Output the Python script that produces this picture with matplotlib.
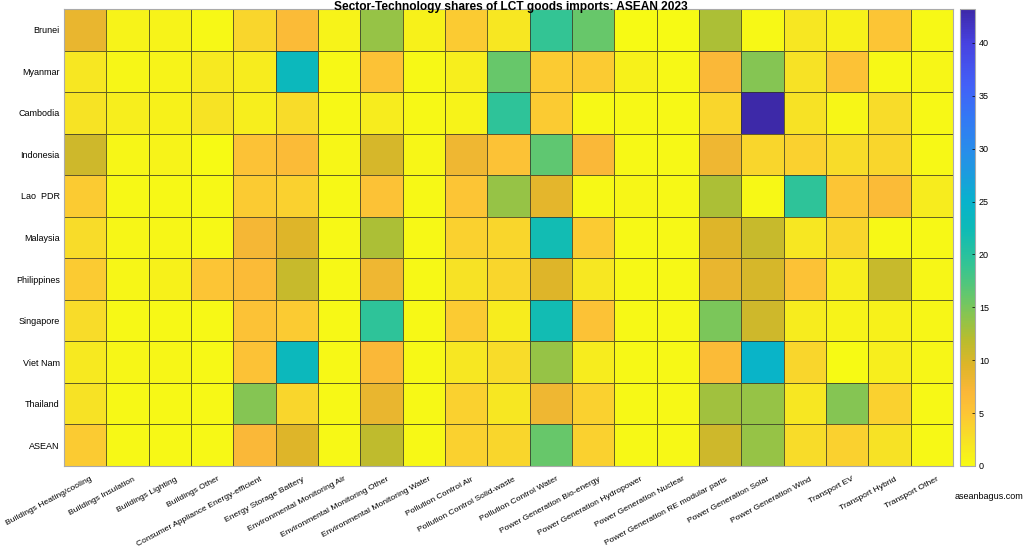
import numpy as np
import matplotlib
matplotlib.use("Agg")
import matplotlib.pyplot as plt
import matplotlib.transforms as mtransforms
from matplotlib.colors import LinearSegmentedColormap

plt.rcParams['font.family'] = ['Liberation Sans', 'DejaVu Sans']

countries = ["Brunei", "Myanmar", "Cambodia", "Indonesia", "Lao  PDR", "Malaysia",
             "Philippines", "Singapore", "Viet Nam", "Thailand", "ASEAN"]
sectors = ["Buildings Heating/cooling", "Buildings Insulation", "Buildings Lighting",
           "Buildings Other", "Consumer Appliance Energy-efficient", "Energy Storage Battery",
           "Environmental Monitoring Air", "Environmental Monitoring Other",
           "Environmental Monitoring Water", "Pollution Control Air",
           "Pollution Control Solid-waste", "Pollution Control Water",
           "Power Generation Bio-energy", "Power Generation Hydropower",
           "Power Generation Nuclear", "Power Generation RE modular parts",
           "Power Generation Solar", "Power Generation Wind", "Transport EV",
           "Transport Hybrid", "Transport Other"]

brunei      = [8.5, 0.7, 0.7, 0.3, 3.5, 6.5, 0.7, 13.5, 1.0, 4.5, 2.0, 19.0, 16.0, 0.0, 0.0, 12.5, 0.2, 2.0, 1.0, 5.0, 0.3]
myanmar     = [2.0, 0.5, 0.8, 1.8, 1.5, 23.0, 0.2, 5.5, 0.3, 1.2, 16.0, 4.5, 4.5, 1.0, 0.2, 7.0, 14.5, 2.5, 5.5, 0.3, 0.5]
cambodia    = [2.2, 1.3, 1.0, 2.3, 1.3, 3.0, 0.2, 1.5, 0.2, 0.8, 19.5, 4.5, 0.3, 0.2, 0.2, 3.5, 43.2, 2.5, 0.4, 3.0, 0.3]
indonesia   = [10.5, 0.5, 0.8, 0.1, 5.5, 6.5, 0.4, 10.0, 0.4, 8.0, 5.5, 16.5, 7.0, 0.3, 0.2, 8.0, 3.5, 4.0, 3.0, 3.5, 0.3]
lao_pdr     = [4.5, 0.3, 0.3, 0.3, 4.5, 4.0, 0.3, 5.5, 0.3, 5.0, 13.5, 9.0, 0.2, 0.5, 0.2, 12.5, 0.3, 19.5, 5.0, 6.5, 1.5]
malaysia    = [3.0, 0.4, 0.4, 0.2, 7.5, 9.5, 0.3, 12.5, 0.3, 4.0, 3.5, 22.0, 4.5, 0.3, 0.2, 9.5, 11.0, 2.0, 3.5, 0.3, 0.3]
philippines = [4.5, 0.4, 1.0, 5.0, 6.5, 11.0, 0.3, 8.0, 0.3, 2.5, 3.5, 9.5, 2.0, 0.2, 0.2, 8.5, 10.0, 5.5, 1.2, 11.0, 0.5]
singapore   = [3.0, 0.3, 0.3, 0.2, 5.5, 4.5, 0.3, 19.5, 0.3, 4.5, 1.5, 22.0, 5.5, 0.2, 0.2, 15.0, 10.5, 1.5, 0.8, 1.0, 0.5]
viet_nam    = [1.8, 0.4, 0.4, 0.2, 5.5, 23.0, 0.3, 7.0, 0.3, 2.0, 3.0, 13.5, 1.5, 0.2, 0.2, 6.5, 24.5, 3.5, 0.1, 1.2, 0.5]
thailand    = [2.5, 0.3, 0.3, 0.2, 14.5, 3.5, 0.3, 8.5, 0.3, 4.0, 2.0, 8.0, 4.0, 0.2, 0.2, 13.0, 13.5, 2.0, 14.5, 4.0, 0.3]
asean       = [4.5, 0.3, 0.3, 0.3, 7.0, 9.5, 0.3, 11.5, 0.3, 4.0, 3.5, 16.0, 4.0, 0.2, 0.2, 10.5, 13.5, 3.0, 4.0, 2.5, 0.3]

data = np.array([brunei, myanmar, cambodia, indonesia, lao_pdr, malaysia,
                 philippines, singapore, viet_nam, thailand, asean])

vmax = data.max()

# colour anchors (value, rgb) (reversed parula)
cbar_vals = [0.0, 2.5, 5.0, 7.0, 9.5, 12.0, 14.0, 16.0, 19.0, 22.5, 25.0, 28.0, 30.0, 33.0, 36.0, 40.0, 43.2]
cbar_cols = [(0.97, 0.98, 0.08), (0.97, 0.88, 0.15), (0.99, 0.77, 0.21), (0.98, 0.72, 0.22),
             (0.87, 0.71, 0.16), (0.72, 0.74, 0.18), (0.55, 0.77, 0.30), (0.40, 0.78, 0.42),
             (0.20, 0.77, 0.58), (0.05, 0.73, 0.72), (0.03, 0.70, 0.80), (0.12, 0.60, 0.88),
             (0.16, 0.55, 0.92), (0.20, 0.47, 0.96), (0.26, 0.38, 0.97), (0.28, 0.26, 0.88),
             (0.24, 0.16, 0.66)]
cmap = LinearSegmentedColormap.from_list(
    "parula_r", [(v / cbar_vals[-1], c) for v, c in zip(cbar_vals, cbar_cols)])

fig = plt.figure(figsize=(10.24, 5.51), dpi=100)
ax = fig.add_axes([0.0625, 0.1543, 0.8682, 0.8294])
cax = fig.add_axes([0.9375, 0.1543, 0.0145, 0.8294])

mesh = ax.pcolormesh(np.arange(len(sectors) + 1), np.arange(len(countries) + 1), data,
                     cmap=cmap, vmin=0, vmax=vmax, edgecolors=(0.2, 0.2, 0.15, 0.75),
                     linewidth=0.6)
ax.set_xlim(0, len(sectors))
ax.set_ylim(len(countries), 0)
ax.set_xticks(np.arange(len(sectors)) + 0.5)
ax.set_xticklabels(sectors, rotation=28, ha='right', rotation_mode='anchor', fontsize=6.1)
ax.set_yticks(np.arange(len(countries)) + 0.5)
ax.set_yticklabels(countries, fontsize=6.5)
ax.tick_params(axis='y', length=0, pad=3)
ax.tick_params(axis='x', length=0, pad=7)
offset = mtransforms.ScaledTranslation(5 / 100, 0, fig.dpi_scale_trans)
for lab in ax.get_xticklabels():
    lab.set_transform(lab.get_transform() + offset)
for s in ax.spines.values():
    s.set_color('#aaaaaa')
    s.set_linewidth(0.8)

fig.text(0.0625 + 0.8682 / 2 + 0.002, 1 - 10 / 551,
         "Sector-Technology shares of LCT goods imports: ASEAN 2023",
         fontsize=8.6, fontweight='bold', ha='center', va='baseline')

cb = fig.colorbar(mesh, cax=cax, ticks=np.arange(0, 45, 5))
cb.ax.tick_params(labelsize=6.5, length=2.5, width=0.5, direction='in', pad=3)
cb.outline.set_edgecolor('#aaaaaa')
cb.outline.set_linewidth(0.8)

fig.text(0.9325, 0.0985, "aseanbagus.com", fontsize=6.5, ha='left', va='center')

fig.savefig("out.png", dpi=100)
